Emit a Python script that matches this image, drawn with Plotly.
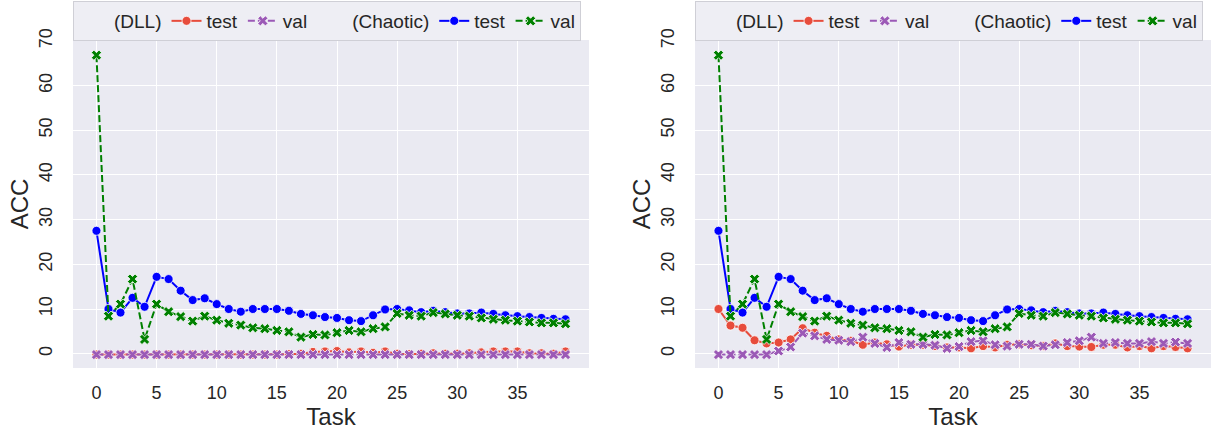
import plotly.graph_objects as go

tasks = list(range(40))

chaotic_test = [27.5, 10.0, 9.2, 12.5, 10.5, 17.2, 16.7, 14.1, 12.0, 12.4, 11.1, 10.0, 9.4, 10.0, 10.0,
                10.0, 9.6, 8.9, 8.6, 8.2, 8.0, 7.5, 7.3, 8.6, 9.9, 10.0, 9.7, 9.3, 9.6, 9.3,
                9.0, 9.0, 9.2, 8.9, 8.6, 8.4, 8.2, 8.0, 7.8, 7.7]
chaotic_val = [66.8, 8.4, 11.1, 16.7, 3.2, 11.1, 9.4, 8.3, 7.3, 8.4, 7.5, 6.8, 6.4, 5.8, 5.6,
               5.2, 4.9, 3.7, 4.3, 4.2, 4.7, 5.2, 4.9, 5.6, 6.0, 9.0, 8.6, 8.4, 9.2, 8.9,
               8.6, 8.4, 8.0, 7.7, 7.5, 7.3, 7.1, 6.9, 6.9, 6.7]

dll_test_left = [-0.2, -0.2, -0.2, -0.2, -0.2, -0.2, -0.2, -0.2, -0.2, -0.2, -0.2, -0.2, -0.2, -0.2, -0.2,
                 -0.2, -0.1, 0.0, 0.4, 0.5, 0.6, 0.3, 0.5, 0.2, 0.5, 0.0, -0.1, 0.0, 0.1, 0.0,
                 0.0, 0.1, 0.3, 0.5, 0.5, 0.5, 0.1, 0.1, 0.0, 0.5]
dll_val_left = [-0.2] * 40

dll_test_right = [10.0, 6.3, 5.8, 3.0, 2.3, 2.5, 3.2, 5.7, 4.7, 4.0, 3.2, 2.9, 2.0, 2.5, 2.1,
                  1.6, 2.0, 2.0, 1.7, 1.4, 1.4, 1.2, 1.7, 1.4, 2.0, 2.1, 1.9, 1.7, 2.3, 1.7,
                  1.6, 1.5, 2.0, 2.0, 1.4, 1.7, 1.2, 1.7, 1.5, 1.2]
dll_val_right = [-0.2, -0.2, -0.2, -0.2, -0.2, 0.6, 1.5, 4.6, 4.0, 3.2, 3.0, 2.7, 3.7, 2.3, 1.4,
                 2.5, 2.1, 2.1, 1.9, 1.2, 1.6, 2.7, 2.9, 2.0, 1.7, 2.1, 2.1, 1.7, 2.0, 2.5,
                 2.9, 3.7, 2.3, 2.5, 2.3, 2.3, 2.7, 2.3, 2.6, 2.3]

x_ticks = [0, 5, 10, 15, 20, 25, 30, 35]
y_ticks = [0, 10, 20, 30, 40, 50, 60, 70]

RED = "#e74c3c"
PURPLE = "#9b59b6"
BLUE = "#0000ff"
GREEN = "#008000"
TXT = "#262626"
FONT = "Liberation Sans, Arial, sans-serif"

fig = go.Figure()


def add_panel(xa, ya, legend, dll_test, dll_val):
    fig.add_trace(go.Scatter(x=[None], y=[None], mode="lines", name="(DLL)",
                             line=dict(color="rgba(0,0,0,0)"), xaxis=xa, yaxis=ya,
                             legend=legend, hoverinfo="skip"))
    fig.add_trace(go.Scatter(x=tasks, y=dll_test, mode="lines+markers", name="test",
                             line=dict(color=RED, width=2),
                             marker=dict(symbol="circle", size=9, color=RED,
                                         line=dict(color="white", width=0.8)),
                             xaxis=xa, yaxis=ya, legend=legend))
    fig.add_trace(go.Scatter(x=tasks, y=dll_val, mode="lines+markers", name="val",
                             line=dict(color=PURPLE, width=2, dash="7px,3px"),
                             marker=dict(symbol="x", size=9, color=PURPLE,
                                         line=dict(color="white", width=0.8)),
                             xaxis=xa, yaxis=ya, legend=legend))
    fig.add_trace(go.Scatter(x=[None], y=[None], mode="lines", name="(Chaotic)",
                             line=dict(color="rgba(0,0,0,0)"), xaxis=xa, yaxis=ya,
                             legend=legend, hoverinfo="skip"))
    fig.add_trace(go.Scatter(x=tasks, y=chaotic_test, mode="lines+markers", name="test",
                             line=dict(color=BLUE, width=2),
                             marker=dict(symbol="circle", size=9, color=BLUE,
                                         line=dict(color="white", width=0.8)),
                             xaxis=xa, yaxis=ya, legend=legend))
    fig.add_trace(go.Scatter(x=tasks, y=chaotic_val, mode="lines+markers", name="val",
                             line=dict(color=GREEN, width=2, dash="7px,3px"),
                             marker=dict(symbol="x", size=9, color=GREEN,
                                         line=dict(color="white", width=0.8)),
                             xaxis=xa, yaxis=ya, legend=legend))


add_panel("x", "y", "legend", dll_test_left, dll_val_left)
add_panel("x2", "y2", "legend2", dll_test_right, dll_val_right)

xcommon = dict(range=[-1.95, 40.95], tickmode="array", tickvals=x_ticks,
               ticktext=[str(v) for v in x_ticks], showgrid=True, gridcolor="white",
               gridwidth=1.3, zeroline=False, showline=False, automargin=False,
               tickfont=dict(size=18, color=TXT, family=FONT),
               ticks="outside", ticklen=8, tickcolor="rgba(0,0,0,0)",
               title=dict(text="Task", font=dict(size=24, color=TXT, family=FONT), standoff=0))
ycommon = dict(range=[-3.2, 70.2], tickmode="array", tickvals=y_ticks,
               ticktext=[str(v) for v in y_ticks], showgrid=True, gridcolor="white",
               gridwidth=1.3, zeroline=False, showline=False, tickangle=-90, automargin=False,
               tickfont=dict(size=18, color=TXT, family=FONT),
               ticks="outside", ticklen=13, tickcolor="rgba(0,0,0,0)",
               title=dict(text="ACC", font=dict(size=24, color=TXT, family=FONT), standoff=0))

legcommon = dict(orientation="h", yref="container", yanchor="top", y=1 - 1 / 430,
                 xanchor="left", xref="paper",
                 bgcolor="#eeeef4", bordercolor="#cfcfd6", borderwidth=1,
                 font=dict(size=19, color=TXT, family=FONT), tracegroupgap=0)

fig.update_layout(
    width=1213, height=430,
    margin=dict(l=73, r=2, t=40, b=62, autoexpand=False),
    paper_bgcolor="white", plot_bgcolor="#eaeaf2",
    font=dict(family=FONT, color=TXT),
    xaxis=dict(domain=[0, 0.4534], anchor="y", **xcommon),
    yaxis=dict(domain=[0, 1], anchor="x", **ycommon),
    xaxis2=dict(domain=[0.5466, 1], anchor="y2", **xcommon),
    yaxis2=dict(domain=[0, 1], anchor="x2", **ycommon),
    legend=dict(x=0, **legcommon),
    legend2=dict(x=0.5466, **legcommon),
)

fig.write_html("out.html", config={"displayModeBar": False},
               post_script="document.body.style.margin='0';document.body.style.overflow='hidden';")
